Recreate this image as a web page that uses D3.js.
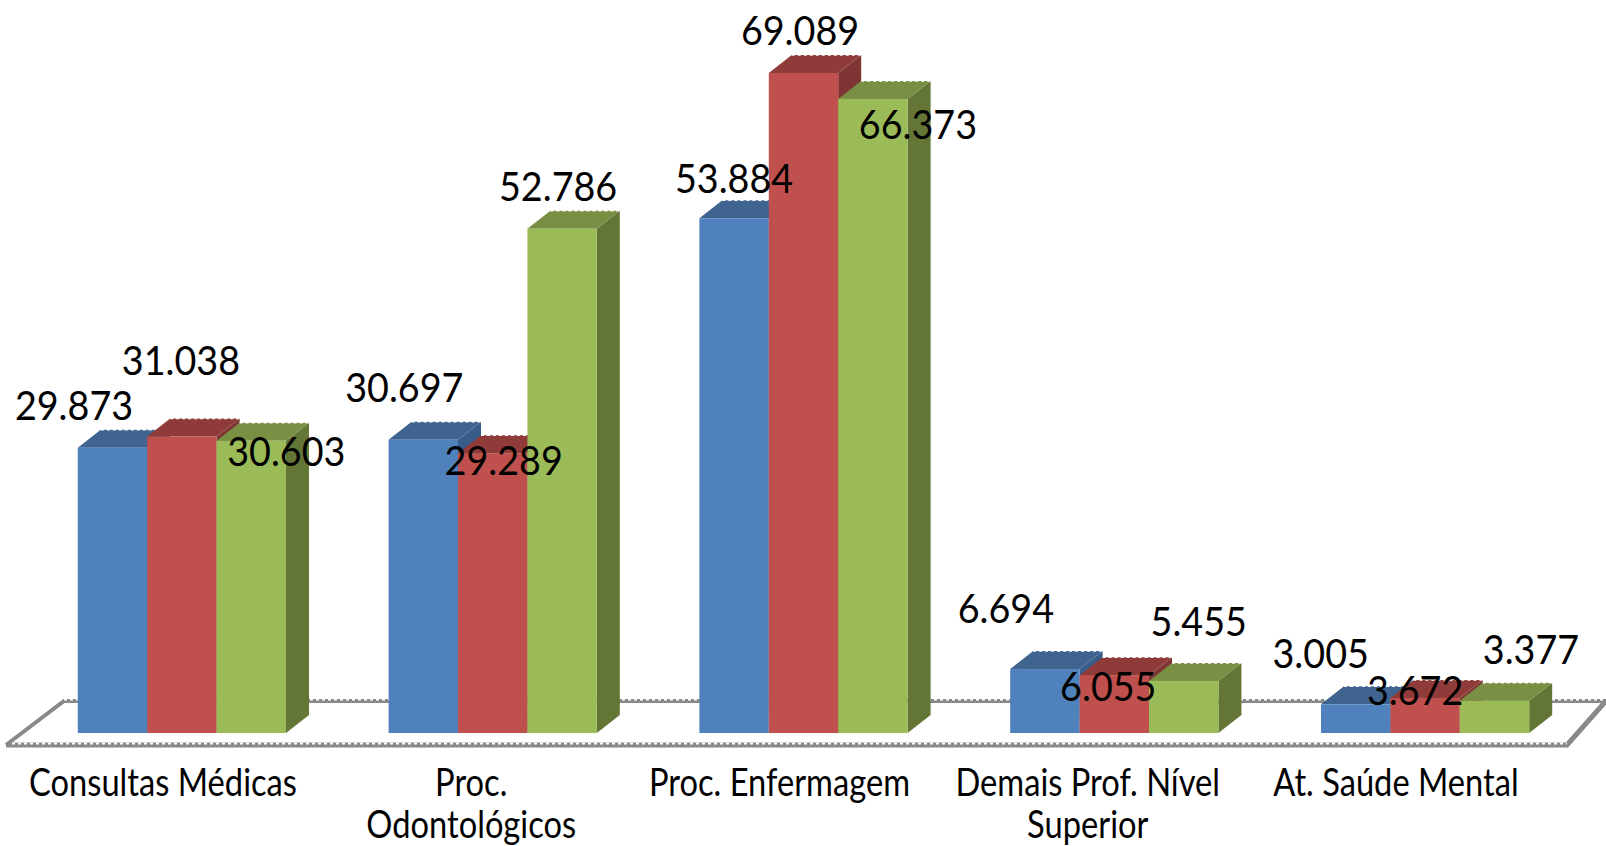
<!DOCTYPE html>
<html>
  <head>
    <meta charset="utf-8">
    <title></title>
    <script type="text/javascript" src="https://d3js.org/d3.v7.min.js"></script>
    <style media="screen">
      html, body { margin: 0; padding: 0; background: #fff; overflow: hidden; }
      text { font-family: Lato, "Open Sans", sans-serif; fill: #000; }
    </style>
  </head>
  <body>
    <div class="vis">
    </div>
    <script type="text/javascript">
      var categories = [
        ["Consultas Médicas"],
        ["Proc.", "Odontológicos"],
        ["Proc. Enfermagem"],
        ["Demais Prof. Nível", "Superior"],
        ["At. Saúde Mental"]
      ];
      var seriesNames = ["s1", "s2", "s3"];
      var s1 = [29873, 30697, 53884, 6694, 3005];
      var s2 = [31038, 29289, 69089, 6055, 3672];
      var s3 = [30603, 52786, 66373, 5455, 3377];
      var valueLabels = [
        ["29.873", "30.697", "53.884", "6.694", "3.005"],
        ["31.038", "29.289", "69.089", "6.055", "3.672"],
        ["30.603", "52.786", "66.373", "5.455", "3.377"]
      ];

      var w = 1606;
      var h = 846;
      var baseY = 733;
      var depthX = 23;
      var depthY = 18;

      var colors = [
        {front: "#4f81bd", top: "#3e648f", side: "#385d8a"},
        {front: "#c0504d", top: "#8f3b39", side: "#7f3533"},
        {front: "#9bbb59", top: "#788f44", side: "#647636"}
      ];

      // hand placed data labels, offset from the middle of the bar front top
      var labelOffsets = [
        [[-38.5, -28], [-19, -38], [0, -25], [-39, -46], [-35, -36]],
        [[-1, -61.5], [11, 22], [-3.5, -28], [-6, 26], [-10, 7]],
        [[35, 25], [-4, -28], [45, 40], [15, -45], [36.5, -37]]
      ];

      var svg = d3.select(".vis")
        .append("svg")
        .attr("width", w)
        .attr("height", h)
        .style("display", "block");

      var names = categories.map(function(d) { return d.join(" "); });
      var xscale = d3.scaleBand()
        .domain(names)
        .range([26.5, 1580.5])
        .paddingInner(0.33)
        .paddingOuter(0.165);
      var inner = d3.scaleBand()
        .domain(seriesNames)
        .range([0, xscale.bandwidth()]);
      var yscale = d3.scaleLinear()
        .domain([0, 69089])
        .range([baseY, 73]);
      var labelX = d3.scalePoint()
        .domain(names)
        .range([163, 1396]);

      // floor of the 3d chart
      var floor = svg.append("g").attr("fill", "none").attr("stroke", "#898989");
      floor.append("path")
        .attr("d", "M6,745 L64,701 L1606,701")
        .attr("stroke-width", 4);
      floor.append("path")
        .attr("d", "M6,745 L1567,745 L1606,701")
        .attr("stroke-width", 5);
      floor.append("path")
        .attr("d", "M64,699.5 L1606,699.5 M12,743.5 L1567,743.5")
        .attr("stroke", "#fff")
        .attr("stroke-width", 2)
        .attr("stroke-dasharray", "3,3");

      var rows = [s1, s2, s3];
      rows.forEach(function(vals, s) {
        var g = svg.append("g").attr("class", "series");
        var bars = g.selectAll("g").data(vals).enter().append("g");
        function left(d, i) { return xscale(names[i]) + inner(seriesNames[s]); }
        bars.append("path")
          .attr("fill", colors[s].side)
          .attr("d", function(d, i) {
            var x = left(d, i) + inner.bandwidth(), y = yscale(d);
            return "M" + x + "," + y + "l" + depthX + "," + (-depthY) +
              "L" + (x + depthX) + "," + (baseY - depthY) + "L" + x + "," + baseY + "Z";
          });
        bars.append("path")
          .attr("fill", colors[s].top)
          .attr("d", function(d, i) {
            var x = left(d, i), y = yscale(d);
            return "M" + x + "," + y + "l" + depthX + "," + (-depthY) +
              "h" + inner.bandwidth() + "l" + (-depthX) + "," + depthY + "Z";
          });
        // the jagged back edge of the top face
        bars.append("path")
          .attr("fill", "none")
          .attr("stroke", "#fff")
          .attr("stroke-width", 1.5)
          .attr("stroke-dasharray", "3,3")
          .attr("d", function(d, i) {
            var x = left(d, i), y = yscale(d);
            return "M" + (x + depthX) + "," + (y - depthY) + "h" + inner.bandwidth();
          });
        bars.append("rect")
          .attr("fill", colors[s].front)
          .attr("x", left)
          .attr("y", function(d) { return yscale(d); })
          .attr("width", inner.bandwidth())
          .attr("height", function(d) { return baseY - yscale(d); });
      });

      // labels go on top of all bars
      rows.forEach(function(vals, s) {
        svg.append("g").selectAll("text").data(vals).enter().append("text")
          .attr("text-anchor", "middle")
          .attr("font-size", 41)
          .attr("transform", function(d, i) {
            var x = xscale(names[i]) + inner(seriesNames[s]) + inner.bandwidth() / 2 + labelOffsets[s][i][0];
            var y = yscale(d) + labelOffsets[s][i][1];
            return "translate(" + x + "," + y + ") scale(0.92,1)";
          })
          .text(function(d, i) { return valueLabels[s][i]; });
      });

      var catText = svg.append("g").selectAll("text").data(categories).enter().append("text")
        .attr("text-anchor", "middle")
        .attr("font-size", 38)
        .attr("transform", function(d, i) { return "translate(" + labelX(names[i]) + ",796) scale(0.86,1)"; });
      catText.selectAll("tspan").data(function(d) { return d; }).enter().append("tspan")
        .attr("x", 0)
        .attr("y", function(d, i) { return i * 42; })
        .text(function(d) { return d; });
    </script>
  </body>
</html>
